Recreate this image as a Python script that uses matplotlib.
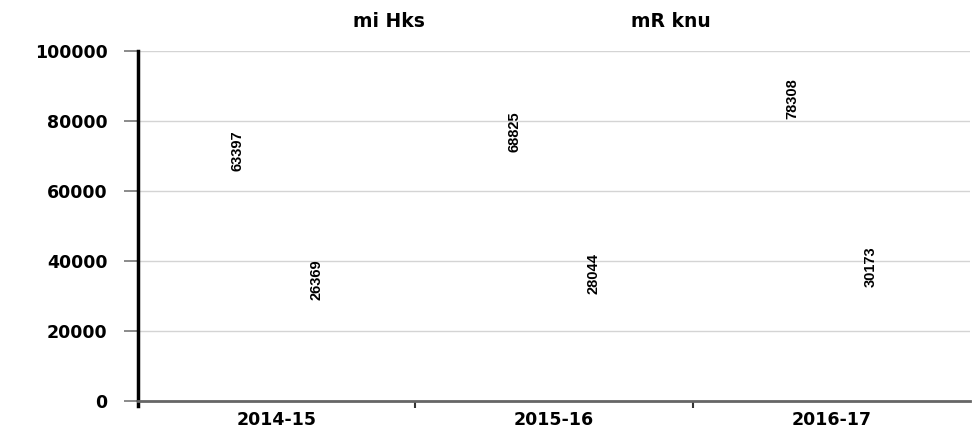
import matplotlib
matplotlib.use("Agg")
import matplotlib.pyplot as plt
import numpy as np
from matplotlib.ticker import FixedLocator
from matplotlib.font_manager import FontProperties

years = ["2014-15", "2015-16", "2016-17"]
series_names = ["mi Hks", "mR knu"]
consumption = [63397, 68825, 78308]
production = [26369, 28044, 30173]
y_ticks = [0, 20000, 40000, 60000, 80000, 100000]

fig = plt.figure(figsize=(9.72, 4.40), dpi=100)
ax = fig.add_axes([0.142, 0.089, 0.856, 0.795])

x = np.arange(len(years))
width = 0.28
offset = 0.142
b1 = ax.bar(x - offset, consumption, width, fill=False, linewidth=0, label=series_names[0])
b2 = ax.bar(x + offset, production, width, fill=False, linewidth=0, label=series_names[1])

label_font = dict(family=["Liberation Sans Narrow", "Liberation Sans"], size=10.5, weight="bold")
for bars in (b1, b2):
    ax.bar_label(bars, labels=[str(int(b.get_height())) for b in bars],
                 rotation=90, padding=6, **label_font)

ax.set_xlim(-0.5, 2.5)
ax.set_ylim(0, 100000)
ax.set_yticks(y_ticks)
ax.set_yticklabels([str(v) for v in y_ticks])
ax.set_xticks(x)
ax.set_xticklabels(years)
ax.xaxis.set_minor_locator(FixedLocator([0.5, 1.5]))

tick_font = FontProperties(family="DejaVu Sans", weight="bold", size=12.5)
for lab in ax.get_xticklabels() + ax.get_yticklabels():
    lab.set_fontproperties(tick_font)

ax.tick_params(axis="x", which="major", length=0, pad=7)
ax.tick_params(axis="x", which="minor", length=5, width=1.5, color="#333333")
ax.tick_params(axis="y", length=10, width=1.2, color="#777777", pad=12)

ax.grid(axis="y", color="#d4d4d4", linewidth=1)
ax.set_axisbelow(True)

for side in ("top", "right"):
    ax.spines[side].set_visible(False)
ax.spines["left"].set_color("black")
ax.spines["left"].set_linewidth(2.5)
ax.spines["left"].set_bounds(-1500, 100000)
ax.spines["bottom"].set_color("#666666")
ax.spines["bottom"].set_linewidth(2)

fig.legend(handles=[b1, b2], labels=series_names, loc="upper left",
           bbox_to_anchor=(0.323, 1.01), ncol=2, frameon=False,
           handlelength=0.8, handletextpad=0.4, columnspacing=9.8,
           prop=dict(family="DejaVu Sans", weight="bold", size=13.5))

fig.savefig("out.png", dpi=100)
